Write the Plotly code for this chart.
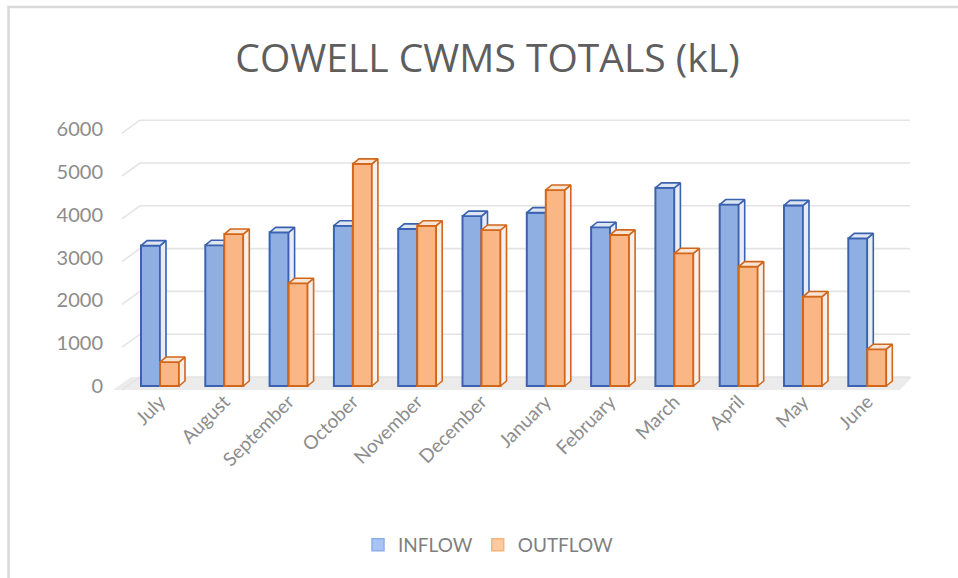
import plotly.graph_objects as go

# ---------------- data ----------------
months = ["July", "August", "September", "October", "November", "December",
          "January", "February", "March", "April", "May", "June"]
inflow = [3280, 3290, 3590, 3745, 3670, 3970, 4050, 3710, 4630, 4240, 4220, 3450]
outflow = [560, 3550, 2400, 5190, 3745, 3645, 4580, 3530, 3100, 2790, 2090, 860]
y_ticks = [0, 1000, 2000, 3000, 4000, 5000, 6000]
series_names = ["INFLOW", "OUTFLOW"]

# ---------------- geometry (pixels -> data units) ----------------
W, H = 958, 578
L, R, T, B = 110, 930, 100, 400          # plot area in pixels
X0PX, PITCH = 160.0, 64.3               # category 0 centre, px per category
Y0PX, PXPER = 386.0, 0.0428             # value 0 position, px per unit

def ux(px):
    return (px - X0PX) / PITCH

def vy(py):
    return (Y0PX - py) / PXPER

def ypx(v):
    return Y0PX - v * PXPER

bw = 19 / PITCH          # front-face width
ddx = 6 / PITCH          # depth offset x
ddy = 5 / PXPER          # depth offset y

xr = [ux(L), ux(R)]
yr = [vy(B), vy(T)]

colors = {
    "INFLOW": dict(fill="#8FAEE2", line="#3A62B0", side="#E9ECF4", top="#DDE5F3",
                   lfill="#A8C4F4", lline="#8DAEE6"),
    "OUTFLOW": dict(fill="#FBB686", line="#D2661A", side="#F7EFEA", top="#F8E4D4",
                    lfill="#FFCB9E", lline="#F7B37C"),
}

fig = go.Figure()

# ---- floor ----
fx = [ux(113), ux(131), ux(912), ux(900), ux(113)]
fy = [vy(390), vy(377), vy(377), vy(390), vy(390)]
fig.add_trace(go.Scatter(x=fx, y=fy, fill="toself", fillcolor="#EBEBEB",
                         line=dict(width=0), mode="lines", hoverinfo="skip",
                         showlegend=False, xaxis="x", yaxis="y"))

# ---- gridlines (side wall + back wall) ----
gx, gy = [], []
for t in y_ticks:
    gx += [ux(122), ux(140), ux(910), None]
    gy += [vy(ypx(t) + 4), vy(ypx(t) - 9), vy(ypx(t) - 9), None]
fig.add_trace(go.Scatter(x=gx, y=gy, mode="lines",
                         line=dict(color="#E4E4E4", width=1.6),
                         hoverinfo="skip", showlegend=False, xaxis="x", yaxis="y"))

# ---- legend entries ----
for name in series_names:
    c = colors[name]
    fig.add_trace(go.Bar(x=[None], y=[None], name=name,
                         marker=dict(color=c["lfill"], line=dict(color=c["lline"], width=1.5)),
                         xaxis="x", yaxis="y"))

# ---- bars with 3-D faces, one overlay subplot per series ----
for k, (name, vals) in enumerate(zip(series_names, [inflow, outflow])):
    ax = str(k + 2)
    c = colors[name]
    offs = -bw / 2 if k == 0 else bw / 2
    xs = [i + offs for i in range(len(months))]
    fig.add_trace(go.Bar(x=xs, y=vals, width=bw, name=name, showlegend=False,
                         marker=dict(color=c["fill"], line=dict(color=c["line"], width=2)),
                         xaxis="x" + ax, yaxis="y" + ax))
    sx, sy, tx, ty = [], [], [], []
    for xc, h in zip(xs, vals):
        x0, x1 = xc - bw / 2, xc + bw / 2
        sx += [x1, x1, x1 + ddx, x1 + ddx, x1, None]
        sy += [0, h, h + ddy, ddy, 0, None]
        tx += [x0, x1, x1 + ddx, x0 + ddx, x0, None]
        ty += [h, h, h + ddy, h + ddy, h, None]
    fig.add_trace(go.Scatter(x=sx, y=sy, fill="toself", fillcolor=c["side"],
                             mode="lines", line=dict(color=c["line"], width=1.6),
                             hoverinfo="skip", showlegend=False,
                             xaxis="x" + ax, yaxis="y" + ax))
    fig.add_trace(go.Scatter(x=tx, y=ty, fill="toself", fillcolor=c["top"],
                             mode="lines", line=dict(color=c["line"], width=1.6),
                             hoverinfo="skip", showlegend=False,
                             xaxis="x" + ax, yaxis="y" + ax))

fig.update_layout(
    width=W, height=H,
    margin=dict(l=L, r=W - R, t=T, b=H - B, pad=0),
    paper_bgcolor="white", plot_bgcolor="white",
    barmode="overlay",
    font=dict(family="Lato", color="#808080"),
    title=dict(text="COWELL CWMS TOTALS (kL)", x=487.5 / W, xref="container",
               xanchor="center", y=1 - 58 / H, yref="container", yanchor="middle",
               font=dict(family="Open Sans", size=39, color="#5E5E5E")),
    xaxis=dict(range=xr, tickvals=list(range(len(months))), ticktext=months,
               tickangle=-45, showgrid=False, zeroline=False, showline=False,
               ticks="", ticklabelstandoff=-14,
               tickfont=dict(size=19, color="#8C8C8C"), fixedrange=True),
    yaxis=dict(range=yr, tickvals=y_ticks, showgrid=False, zeroline=False,
               showline=False, ticks="", ticklabelstandoff=6,
               tickfont=dict(size=20, color="#8C8C8C"), fixedrange=True),
    xaxis2=dict(overlaying="x", range=xr, visible=False),
    yaxis2=dict(overlaying="y", range=yr, visible=False),
    xaxis3=dict(overlaying="x", range=xr, visible=False),
    yaxis3=dict(overlaying="y", range=yr, visible=False),
    legend=dict(orientation="h", x=(488 - L) / (R - L), xanchor="center",
                y=(B - 545) / (B - T), yanchor="middle",
                font=dict(size=19, color="#7F7F7F"), itemwidth=30),
    showlegend=True,
    shapes=[dict(type="rect", xref="paper", yref="paper",
                 x0=(8.5 - L) / (R - L), x1=(975 - L) / (R - L),
                 y0=(B - 600) / (B - T), y1=(B - 7) / (B - T),
                 line=dict(color="#D9D9D9", width=2.5), fillcolor="rgba(0,0,0,0)",
                 layer="below")],
)

fig.write_html("out.html")
